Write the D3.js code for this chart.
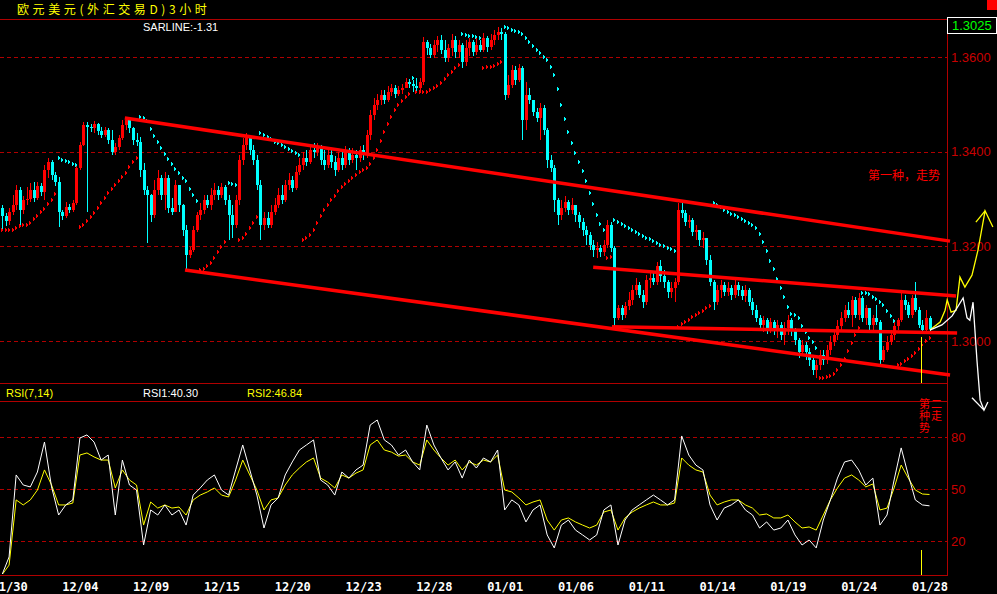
<!DOCTYPE html>
<html><head><meta charset="utf-8">
<script src="https://cdn.jsdelivr.net/npm/d3@7"></script>
<style>
body{margin:0;background:#000;overflow:hidden}
svg{display:block}
</style></head><body>
<svg id="c" width="997" height="594"></svg>
<script>
// ---- DATA (prices in units of 0.0001, i.e. 13264 = 1.3264) ----
const firstOpen = 13281;
const closeP = [13264,13253,13272,13287,13319,13277,13298,13300,13319,13302,
13327,13315,13361,13378,13351,13336,13272,13264,13283,13277,
13291,13365,13414,13456,13452,13450,13458,13444,13435,13446,
13425,13399,13410,13429,13456,13467,13450,13425,13420,13361,
13319,13308,13266,13319,13344,13308,13344,13281,13272,13329,
13287,13234,13182,13192,13234,13266,13277,13298,13287,13308,
13319,13308,13325,13298,13266,13245,13298,13382,13414,13429,
13403,13382,13329,13245,13260,13245,13272,13287,13308,13298,
13329,13340,13323,13357,13372,13386,13378,13403,13399,13410,
13382,13372,13393,13378,13361,13386,13372,13403,13382,13393,
13386,13403,13393,13435,13477,13498,13509,13520,13509,13526,
13534,13522,13530,13534,13547,13543,13539,13534,13547,13631,
13619,13604,13625,13636,13615,13598,13619,13636,13610,13625,
13589,13619,13631,13610,13625,13615,13640,13621,13636,13646,
13653,13648,13520,13541,13572,13551,13577,13467,13520,13509,
13484,13471,13492,13446,13382,13365,13298,13266,13281,13294,
13277,13287,13266,13251,13234,13224,13203,13192,13196,13188,
13203,13245,13196,13049,13070,13055,13074,13087,13108,13118,
13097,13082,13129,13133,13125,13158,13137,13125,13103,13112,
13125,13277,13270,13251,13256,13230,13234,13213,13218,13171,
13125,13082,13108,13118,13103,13112,13097,13118,13108,13095,
13108,13082,13065,13049,13034,13044,13027,13040,13023,13034,
13013,13027,13044,13023,13002,12977,12992,12977,12960,12939,
12949,12970,12960,12981,12998,13013,13032,13049,13065,13055,
13087,13055,13091,13049,13070,13034,13049,13040,12960,12981,
12998,13013,13032,13044,13087,13076,13055,13091,13065,13034,
13023,13049,13025];
const highP = [13287,13270,13281,13308,13329,13325,13306,13325,13334,13336,
13336,13334,13372,13386,13382,13357,13346,13277,13294,13289,
13298,13372,13420,13463,13463,13458,13465,13460,13452,13452,
13450,13446,13418,13435,13467,13473,13469,13452,13439,13431,
13376,13327,13310,13340,13361,13350,13357,13350,13302,13340,
13329,13290,13245,13199,13243,13272,13291,13308,13308,13323,
13334,13327,13334,13329,13308,13287,13308,13393,13429,13439,
13431,13414,13393,13340,13272,13272,13287,13302,13323,13329,
13340,13355,13348,13370,13386,13399,13403,13412,13418,13418,
13414,13403,13403,13408,13391,13399,13403,13412,13408,13408,
13403,13412,13414,13446,13488,13513,13522,13530,13530,13539,
13543,13541,13539,13543,13555,13553,13551,13555,13555,13642,
13636,13627,13636,13644,13646,13636,13627,13648,13644,13636,
13630,13636,13640,13636,13640,13636,13650,13644,13648,13657,
13663,13661,13652,13562,13583,13581,13585,13581,13547,13534,
13509,13492,13503,13498,13450,13393,13372,13302,13298,13306,
13298,13302,13287,13272,13260,13243,13230,13213,13209,13203,
13213,13256,13251,13200,13076,13076,13082,13103,13118,13133,
13125,13108,13139,13146,13146,13167,13171,13150,13129,13125,
13133,13291,13291,13277,13266,13260,13245,13234,13230,13218,
13182,13129,13118,13129,13125,13125,13118,13129,13125,13116,
13118,13112,13091,13076,13055,13053,13049,13049,13044,13044,
13040,13040,13055,13049,13027,13006,13002,12998,12985,12968,
12960,12981,12981,12992,13011,13023,13044,13061,13076,13082,
13095,13093,13101,13095,13076,13070,13055,13076,13045,12989,
13011,13023,13040,13049,13101,13097,13082,13097,13125,13072,
13044,13065,13052];
const lowP = [13234,13243,13245,13266,13277,13245,13268,13287,13294,13294,
13298,13306,13298,13344,13340,13327,13241,13256,13260,13270,
13272,13287,13361,13412,13272,13441,13439,13435,13429,13431,
13416,13393,13393,13403,13425,13446,13439,13414,13412,13346,
13308,13207,13251,13260,13308,13298,13277,13270,13266,13272,
13272,13222,13150,13175,13188,13230,13256,13268,13281,13277,
13298,13298,13302,13287,13213,13218,13239,13287,13372,13403,
13393,13372,13319,13213,13234,13239,13239,13266,13281,13289,
13294,13319,13315,13319,13351,13361,13370,13374,13386,13391,
13372,13361,13365,13365,13348,13357,13361,13365,13372,13376,
13361,13378,13382,13386,13425,13467,13488,13498,13501,13505,
13517,13513,13517,13522,13534,13534,13526,13526,13526,13541,
13604,13598,13598,13610,13606,13589,13589,13602,13598,13598,
13577,13581,13602,13602,13604,13610,13610,13610,13615,13625,
13636,13636,13509,13513,13534,13541,13547,13425,13446,13501,
13475,13463,13425,13435,13365,13357,13272,13245,13256,13272,
13266,13268,13251,13239,13222,13203,13192,13177,13175,13177,
13180,13196,13188,13030,13044,13044,13049,13065,13076,13097,
13091,13070,13076,13112,13118,13118,13125,13112,13091,13091,
13082,13118,13260,13243,13239,13222,13213,13201,13196,13161,
13116,13065,13076,13091,13095,13095,13087,13091,13095,13087,
13082,13074,13055,13040,13023,13019,13015,13017,13013,13006,
13002,12992,13013,13011,12992,12964,12968,12960,12947,12928,
12922,12939,12949,12951,12970,12989,13002,13023,13040,13049,
13030,13049,13044,13040,13034,13023,13019,13034,12949,12955,
12977,12992,13002,13023,13040,13065,13049,13049,13061,13027,
13017,13019,13019];

// RSI values, one every 2 bars
const rsi1 = [0.5,10.8,58.1,52.3,51.2,59.8,77.1,51.2,35.0,40.8,
43.7,79.4,81.2,77.1,66.7,69.6,35.0,66.7,52.3,49.4,
17.7,37.9,35.0,40.8,35.0,37.9,29.2,46.5,50.6,55.2,
58.1,49.4,46.5,61.0,75.4,61.0,46.5,27.5,40.8,44.8,
58.1,65.6,72.5,75.4,78.3,55.2,52.3,46.5,59.8,56.3,
61.0,63.8,86.9,89.8,78.3,75.4,69.6,72.5,65.6,61.0,
86.9,75.4,67.9,61.0,65.6,56.3,66.7,62.1,67.9,65.6,
72.5,37.9,43.7,40.8,31.0,37.9,40.8,23.5,16.0,29.2,
32.1,26.3,23.5,20.6,23.5,37.9,40.8,17.7,32.1,37.9,
40.8,43.7,46.5,43.7,40.8,43.7,80.6,69.6,63.8,61.0,
40.8,32.1,39.0,40.8,43.7,37.9,35.0,27.5,31.0,26.3,
27.5,32.1,23.5,17.7,20.6,16.0,32.1,43.7,56.3,65.6,
66.7,61.0,52.3,56.3,29.2,35.0,55.2,73.7,58.1,43.7,
40.8,40.30];
const rsi2 = [0.5,6.1,43.7,40.8,43.7,49.4,61.0,52.3,40.8,40.8,
41.9,69.6,70.8,68.5,66.7,66.7,50.6,61.0,55.2,52.3,
29.2,42.5,39.0,40.8,39.0,39.6,35.0,43.7,46.5,48.3,
50.6,46.5,45.4,55.2,66.7,58.1,49.4,37.9,43.7,44.8,
52.3,58.1,62.1,65.6,67.9,56.3,54.0,50.6,58.1,56.3,
59.2,61.0,75.4,78.3,72.5,71.3,69.0,69.6,65.6,63.8,
78.3,72.5,67.9,63.8,66.7,61.0,65.6,63.8,66.7,65.6,
69.6,49.4,48.3,44.8,40.8,42.5,43.7,32.1,26.3,32.1,
33.3,31.0,29.2,27.5,29.2,36.7,37.9,26.3,33.3,36.7,
39.0,40.8,42.5,40.8,40.8,41.9,67.9,63.8,61.0,59.8,
46.5,40.8,42.5,43.7,43.7,40.8,39.0,35.0,35.6,33.3,
33.3,35.0,31.0,27.5,28.1,26.3,35.0,43.7,50.6,56.3,
58.1,55.2,51.2,52.9,37.9,39.0,50.6,63.8,56.3,49.4,
47.1,46.84];

const dateLabels = ["11/30","12/04","12/09","12/15","12/20","12/23","12/28","01/01","01/06","01/11","01/14","01/19","01/24","01/28"];
const priceTicks = [13000,13200,13400,13600];
const rsiTicks = [20,50,80];

// hand-drawn lines: [bar index, price]
const channelUpper = [[34.7,13471],[267.8,13211]];
const channelLower = [[51.7,13150],[267.8,12928]];
const lineMiddle  = [[167,13156],[269.5,13095]];
const lineSupport = [[172.3,13030],[269.8,13017]];
const yellowPath = [[262.1,13023],[265,13040],[266.4,13065],[267,13087],[268.1,13061],[269.5,13065],[270.6,13135],[272,13114],[274,13139],[275.7,13192],[277.7,13275],[279.9,13241]];
const yellowHead = [[275.1,13251],[277.7,13275]];
const whitePath = [[262.1,13023],[265.5,13034],[268.4,13053],[271.5,13091],[272.6,13049],[273.4,13044],[274.3,13082],[275.4,12960],[276.3,12875],[277.4,12854],[278.5,12871]];
const whiteHead = [[274,12880],[277.4,12854]];
const cursorBar = 260;

// ---- CHART ----
const svg = d3.select('#c');
const W = 997, H = 594;
const RED = '#ff0000', CYAN = '#00ffff', LINE = '#b00000', TXTRED = '#c80000';
const N = closeP.length;
const openP = closeP.map((c,i)=> i===0 ? firstOpen : closeP[i-1]);

const x = d3.scaleLinear().domain([0, N-1]).range([2, 929.5]);
const y = d3.scaleLinear().domain([13000, 13600]).range([341, 57]);
const yr = d3.scaleLinear().domain([20, 80]).range([541, 437]);
const AX = 947;

svg.append('rect').attr('width',W).attr('height',H).attr('fill','#000');

const defs = svg.append('defs');
defs.append('clipPath').attr('id','mainClip').append('rect').attr('x',0).attr('y',20).attr('width',AX).attr('height',363);
defs.append('clipPath').attr('id','rsiClip').append('rect').attr('x',0).attr('y',403).attr('width',AX).attr('height',171);

// frame lines
const frame = svg.append('g').attr('stroke',LINE).attr('stroke-width',1).attr('shape-rendering','crispEdges');
frame.append('line').attr('x1',0).attr('x2',W).attr('y1',19.5).attr('y2',19.5);
frame.append('line').attr('x1',0).attr('x2',AX).attr('y1',383.5).attr('y2',383.5);
frame.append('line').attr('x1',0).attr('x2',AX).attr('y1',401.5).attr('y2',401.5);
frame.append('line').attr('x1',0).attr('x2',AX).attr('y1',575.5).attr('y2',575.5);
frame.append('line').attr('x1',AX+0.5).attr('x2',AX+0.5).attr('y1',19).attr('y2',576);

// grid
const grid = svg.append('g').attr('stroke',LINE).attr('stroke-dasharray','4,3').attr('shape-rendering','crispEdges');
priceTicks.forEach(t=>grid.append('line').attr('x1',0).attr('x2',AX).attr('y1',Math.round(y(t))+0.5).attr('y2',Math.round(y(t))+0.5));
rsiTicks.forEach(t=>grid.append('line').attr('x1',0).attr('x2',AX).attr('y1',Math.round(yr(t))+0.5).attr('y2',Math.round(yr(t))+0.5));

// axes
const pa = svg.append('g').attr('transform',`translate(${AX},0)`)
  .call(d3.axisRight(y).tickValues(priceTicks).tickFormat(d=>(d/10000).toFixed(4)).tickSize(0).tickPadding(4));
pa.select('.domain').remove();
pa.selectAll('text').attr('fill',TXTRED).style('font','13px "Liberation Sans Narrow", Arial');
const ra = svg.append('g').attr('transform',`translate(${AX},0)`)
  .call(d3.axisRight(yr).tickValues(rsiTicks).tickSize(0).tickPadding(4));
ra.select('.domain').remove();
ra.selectAll('text').attr('fill',TXTRED).style('font','13px "Liberation Sans Narrow", Arial');

const tickIdx = dateLabels.map((d,i)=>2+20*i);
const xa = svg.append('g').attr('transform','translate(0,582)')
  .call(d3.axisBottom(x).tickValues(tickIdx).tickFormat((d,i)=>dateLabels[i]).tickSize(0).tickPadding(0));
xa.select('.domain').remove();
xa.selectAll('text').attr('fill','#fff').style('font','bold 12px "DejaVu Sans Mono", monospace');

// candles
const cg = svg.append('g').attr('clip-path','url(#mainClip)').attr('shape-rendering','crispEdges');
const idx = d3.range(N);
const col = i => closeP[i] > openP[i] ? RED : (closeP[i] < openP[i] ? CYAN : '#ffffff');
cg.selectAll('line.w').data(idx).join('line')
  .attr('x1',i=>Math.round(x(i))+0.5).attr('x2',i=>Math.round(x(i))+0.5)
  .attr('y1',i=>y(highP[i])).attr('y2',i=>y(lowP[i]))
  .attr('stroke',col).attr('stroke-width',1);
cg.selectAll('rect.b').data(idx).join('rect')
  .attr('x',i=>Math.round(x(i))-1).attr('width',3)
  .attr('y',i=>y(Math.max(openP[i],closeP[i])))
  .attr('height',i=>Math.max(1, Math.abs(y(openP[i])-y(closeP[i]))))
  .attr('fill',col);

// parabolic SAR computed from the OHLC data
function parabolicSAR(h, l, step, maxStep){
  const out = []; let up = true, af = step, ep = h[0], s = l[0];
  out.push({v:s, up});
  for (let i=1;i<h.length;i++){
    s = s + af*(ep - s);
    if (up){
      s = Math.min(s, l[i-1], l[Math.max(0,i-2)]);
      if (l[i] < s){ up=false; s=ep; ep=l[i]; af=step; }
      else if (h[i] > ep){ ep=h[i]; af=Math.min(af+step,maxStep); }
    } else {
      s = Math.max(s, h[i-1], h[Math.max(0,i-2)]);
      if (h[i] > s){ up=true; s=ep; ep=h[i]; af=step; }
      else if (l[i] < ep){ ep=l[i]; af=Math.min(af+step,maxStep); }
    }
    out.push({v:s, up});
  }
  return out;
}
const sar = parabolicSAR(highP, lowP, 0.02, 0.2);
cg.selectAll('path.sar').data(sar).join('path')
  .attr('d',(d,i)=>{const cx=Math.round(x(i)), cy=Math.round(y(d.v)); return `M${cx-1},${cy-2}L${cx+2},${cy}L${cx-1},${cy+2}Z`;})
  .attr('fill',d=>d.up?RED:CYAN);

// drawn lines
const lg = d3.line().x(d=>x(d[0])).y(d=>y(d[1]));
[channelUpper, channelLower, lineMiddle, lineSupport].forEach(p=>
  svg.append('path').attr('d',lg(p)).attr('stroke',RED).attr('stroke-width',3.5).attr('fill','none'));
svg.append('path').attr('d',lg(yellowPath)).attr('stroke','#ffff00').attr('stroke-width',1.3).attr('fill','none');
svg.append('path').attr('d',lg(yellowHead)).attr('stroke','#ffff00').attr('stroke-width',1.3).attr('fill','none');
svg.append('path').attr('d',lg(whitePath)).attr('stroke','#ffffff').attr('stroke-width',1.3).attr('fill','none');
svg.append('path').attr('d',lg(whiteHead)).attr('stroke','#ffffff').attr('stroke-width',1.3).attr('fill','none');

// cursor line
const cx0 = Math.round(x(cursorBar))-0.5;
svg.append('line').attr('x1',cx0).attr('x2',cx0).attr('y1',y(lowP[cursorBar])+4).attr('y2',383).attr('stroke','#ffff00');
svg.append('line').attr('x1',cx0).attr('x2',cx0).attr('y1',550).attr('y2',575).attr('stroke','#ffff00');

// RSI
const rg = svg.append('g').attr('clip-path','url(#rsiClip)');
const rl = d3.line().x((d,k)=>x(k*2)).y(d=>yr(d));
rg.append('path').attr('d',rl(rsi2)).attr('stroke','#ffff00').attr('stroke-width',1).attr('fill','none');
rg.append('path').attr('d',rl(rsi1)).attr('stroke','#ffffff').attr('stroke-width',1).attr('fill','none');

// texts
svg.append('text').attr('x',17).attr('y',14).attr('fill','#ffff00')
  .style('font','12px "Noto Sans CJK SC"').style('letter-spacing','3.6px').text('欧元美元(外汇交易D)3小时');
svg.append('text').attr('x',143).attr('y',31).attr('fill','#fff').style('font','11px Arial, "Liberation Sans"').text('SARLINE:-1.31');
const hdr = svg.append('g').style('font','11px Arial, "Liberation Sans"');
hdr.append('text').attr('x',6).attr('y',397).attr('fill','#ffff00').text('RSI(7,14)');
hdr.append('text').attr('x',143).attr('y',397).attr('fill','#fff').text('RSI1:' + rsi1[rsi1.length-1].toFixed(2));
hdr.append('text').attr('x',247).attr('y',397).attr('fill','#ffff00').text('RSI2:' + rsi2[rsi2.length-1].toFixed(2));

// last price box
svg.append('rect').attr('x',947.5).attr('y',17.5).attr('width',49).attr('height',16).attr('fill','#000').attr('stroke','#fff');
svg.append('text').attr('x',952).attr('y',30).attr('fill','#00ff00').style('font','13px "Liberation Sans Narrow", Arial')
  .text((closeP[N-1]/10000).toFixed(4));
svg.append('rect').attr('x',987).attr('y',0).attr('width',10).attr('height',10).attr('fill','#ff0000');

// annotations
const an = svg.append('g').attr('fill','#ff0000');
an.append('text').attr('x',868).attr('y',180).style('font','12px "Noto Sans CJK SC"').text('第一种，走势');
// second annotation: two narrow vertical columns
[['第种势',924.5],['二走',936.5]].forEach(([s,cx])=>
  an.append('text').attr('x',cx).attr('y',398).style('writing-mode','vertical-rl')
    .style('font','11px "Noto Sans CJK SC"').style('letter-spacing','1px').text(s));
</script>
</body></html>
